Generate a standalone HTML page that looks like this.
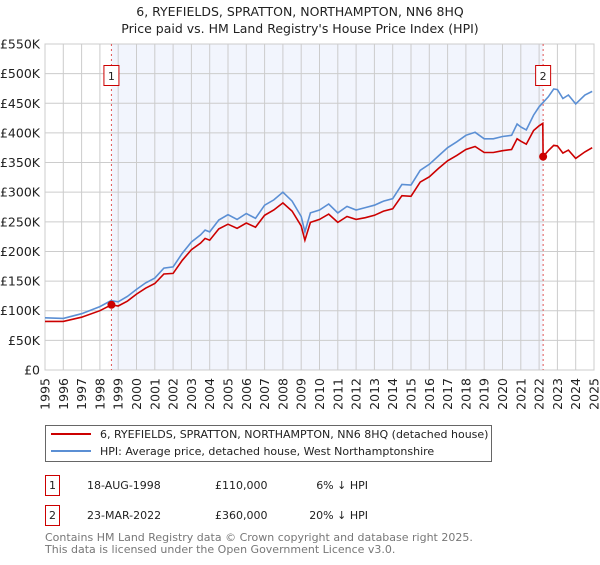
<!DOCTYPE html>
<html><head><meta charset="utf-8"><style>
body{margin:0;background:#fff;font-family:"Liberation Sans","DejaVu Sans",sans-serif;}
svg text{font-family:"DejaVu Sans","Liberation Sans",sans-serif;}
</style></head><body>
<svg id="chart" width="600" height="560" viewBox="0 0 600 560" xmlns="http://www.w3.org/2000/svg">
<text x="300" y="16" text-anchor="middle" font-size="12.5" fill="#222">6, RYEFIELDS, SPRATTON, NORTHAMPTON, NN6 8HQ</text>
<text x="300" y="33" text-anchor="middle" font-size="12.5" fill="#222">Price paid vs. HM Land Registry's House Price Index (HPI)</text>
<g id="plot"></g>
<g>
<rect x="45.5" y="425.5" width="446" height="36" fill="#fff" stroke="#666"/>
<line x1="51" y1="434" x2="91" y2="434" stroke="#cc0000" stroke-width="2"/>
<text x="100" y="438" font-size="11" fill="#222">6, RYEFIELDS, SPRATTON, NORTHAMPTON, NN6 8HQ (detached house)</text>
<line x1="51" y1="451" x2="91" y2="451" stroke="#5b8fd4" stroke-width="2"/>
<text x="100" y="455" font-size="11" fill="#222">HPI: Average price, detached house, West Northamptonshire</text>
</g>
<g font-size="11" fill="#222">
<rect x="45.5" y="475.5" width="14" height="20" fill="#fff" stroke="#cc0000"/>
<text x="52.5" y="489" text-anchor="middle">1</text>
<text x="87" y="489">18-AUG-1998</text>
<text x="215" y="489">£110,000</text>
<text x="368" y="489" text-anchor="end">6% ↓ HPI</text>
<rect x="45.5" y="505.5" width="14" height="20" fill="#fff" stroke="#cc0000"/>
<text x="52.5" y="519" text-anchor="middle">2</text>
<text x="87" y="519">23-MAR-2022</text>
<text x="215" y="519">£360,000</text>
<text x="368" y="519" text-anchor="end">20% ↓ HPI</text>
</g>
<text x="45" y="541" font-size="11" fill="#777">Contains HM Land Registry data © Crown copyright and database right 2025.</text>
<text x="45" y="553" font-size="11" fill="#777">This data is licensed under the Open Government Licence v3.0.</text>
</svg>
<script>
const hpiYears=[1995,1996,1997,1998,1998.6,1999,1999.5,2000,2000.5,2001,2001.5,2002,2002.5,2003,2003.5,2003.75,2004,2004.5,2005,2005.5,2006,2006.5,2007,2007.5,2008,2008.5,2009,2009.2,2009.5,2010,2010.5,2011,2011.5,2012,2012.5,2013,2013.5,2014,2014.5,2015,2015.5,2016,2016.5,2017,2017.5,2018,2018.5,2019,2019.5,2020,2020.5,2020.8,2021,2021.3,2021.7,2022,2022.5,2022.8,2023,2023.3,2023.6,2024,2024.5,2024.9];
const hpiValues=[88,87,95,107,117,115,124,136,147,155,172,174,197,216,228,236,233,253,262,254,264,256,278,287,300,285,259,233,265,270,280,265,276,270,274,278,285,289,313,312,337,347,361,375,385,396,401,390,390,394,396,415,410,405,430,444,461,474,473,458,464,449,464,470];
const ppYears=[1995,1996,1997,1998,1998.63,1999,1999.5,2000,2000.5,2001,2001.5,2002,2002.5,2003,2003.5,2003.75,2004,2004.5,2005,2005.5,2006,2006.5,2007,2007.5,2008,2008.5,2009,2009.2,2009.5,2010,2010.5,2011,2011.5,2012,2012.5,2013,2013.5,2014,2014.5,2015,2015.5,2016,2016.5,2017,2017.5,2018,2018.5,2019,2019.5,2020,2020.5,2020.8,2021,2021.3,2021.7,2022,2022.2,2022.22,2022.5,2022.8,2023,2023.3,2023.6,2024,2024.5,2024.9];
const ppValues=[82,82,89,100,110,108,116,128,138,146,162,163,185,203,214,222,219,238,246,239,248,241,261,270,282,268,243,219,249,254,263,249,259,254,257,261,268,272,294,293,317,326,340,353,362,372,377,367,367,370,372,390,386,381,404,412,416,360,370,379,378,366,371,357,368,375];
const sales=[[1998.63,110,"1"],[2022.22,360,"2"]];
const yTicks=[0,50,100,150,200,250,300,350,400,450,500,550];
const xTicks=[1995,1996,1997,1998,1999,2000,2001,2002,2003,2004,2005,2006,2007,2008,2009,2010,2011,2012,2013,2014,2015,2016,2017,2018,2019,2020,2021,2022,2023,2024,2025];
const NS="http://www.w3.org/2000/svg";
const X0=45,X1=594,Y0=370,Y1=44;
const sx=y=>X0+(y-1995)/30*(X1-X0);
const sy=v=>Y0-v/550*(Y0-Y1);
const g=document.getElementById('plot');
function mk(t,a){const e=document.createElementNS(NS,t);for(const k in a)e.setAttribute(k,a[k]);g.appendChild(e);return e;}
const bg=mk('rect',{x:X0,y:Y1,width:X1-X0,height:Y0-Y1,fill:'#fff'});


const sh=mk('rect',{x:sx(sales[0][0]),y:Y1,width:sx(sales[1][0])-sx(sales[0][0]),height:Y0-Y1,fill:'#f2f5fd'});


yTicks.forEach(v=>{
 const l=mk('line',{x1:X0,x2:X1,y1:sy(v),y2:sy(v),stroke:'#ccc','stroke-width':1});
 
 
 const t=mk('text',{x:X0-5,y:sy(v)+4.5,'text-anchor':'end','font-size':12.5,fill:'#222'});
 t.textContent=v===0?'£0':'£'+v+'K';
 
 
});
xTicks.forEach(y=>{
 const l=mk('line',{x1:sx(y),x2:sx(y),y1:Y1,y2:Y0,stroke:'#ccc','stroke-width':1});
 
 
 const t=mk('text',{x:0,y:0,'text-anchor':'end','font-size':12.5,fill:'#222',transform:`translate(${sx(y)+4.5},${Y0+8}) rotate(-90)`});
 t.textContent=y;
 
 
});
const fr=mk('rect',{x:X0,y:Y1,width:X1-X0,height:Y0-Y1,fill:'none',stroke:'#ccc'});


sales.forEach(s=>{
 const l=mk('line',{x1:sx(s[0]),x2:sx(s[0]),y1:Y1,y2:Y0,stroke:'#e05555','stroke-dasharray':'2,3','stroke-width':1});
 
 
});
const path=(xs,vs)=>xs.map((x,i)=>(i?'L':'M')+sx(x).toFixed(1)+','+sy(vs[i]).toFixed(1)).join('');
const hl=mk('path',{d:path(hpiYears,hpiValues),fill:'none',stroke:'#5b8fd4','stroke-width':1.6});


const pl=mk('path',{d:path(ppYears,ppValues),fill:'none',stroke:'#cc0000','stroke-width':1.6});


sales.forEach(s=>{
 const c=mk('circle',{cx:sx(s[0]),cy:sy(s[1]),r:4,fill:'#cc0000'});
 
 
 const b=mk('rect',{x:sx(s[0])-7.5,y:65.5,width:15,height:20,fill:'#fff',stroke:'#cc0000'});
 
 
 const t=mk('text',{x:sx(s[0]),y:80,'text-anchor':'middle','font-size':11,fill:'#222'});
 t.textContent=s[2];
 
 
});
</script>
</body></html>
